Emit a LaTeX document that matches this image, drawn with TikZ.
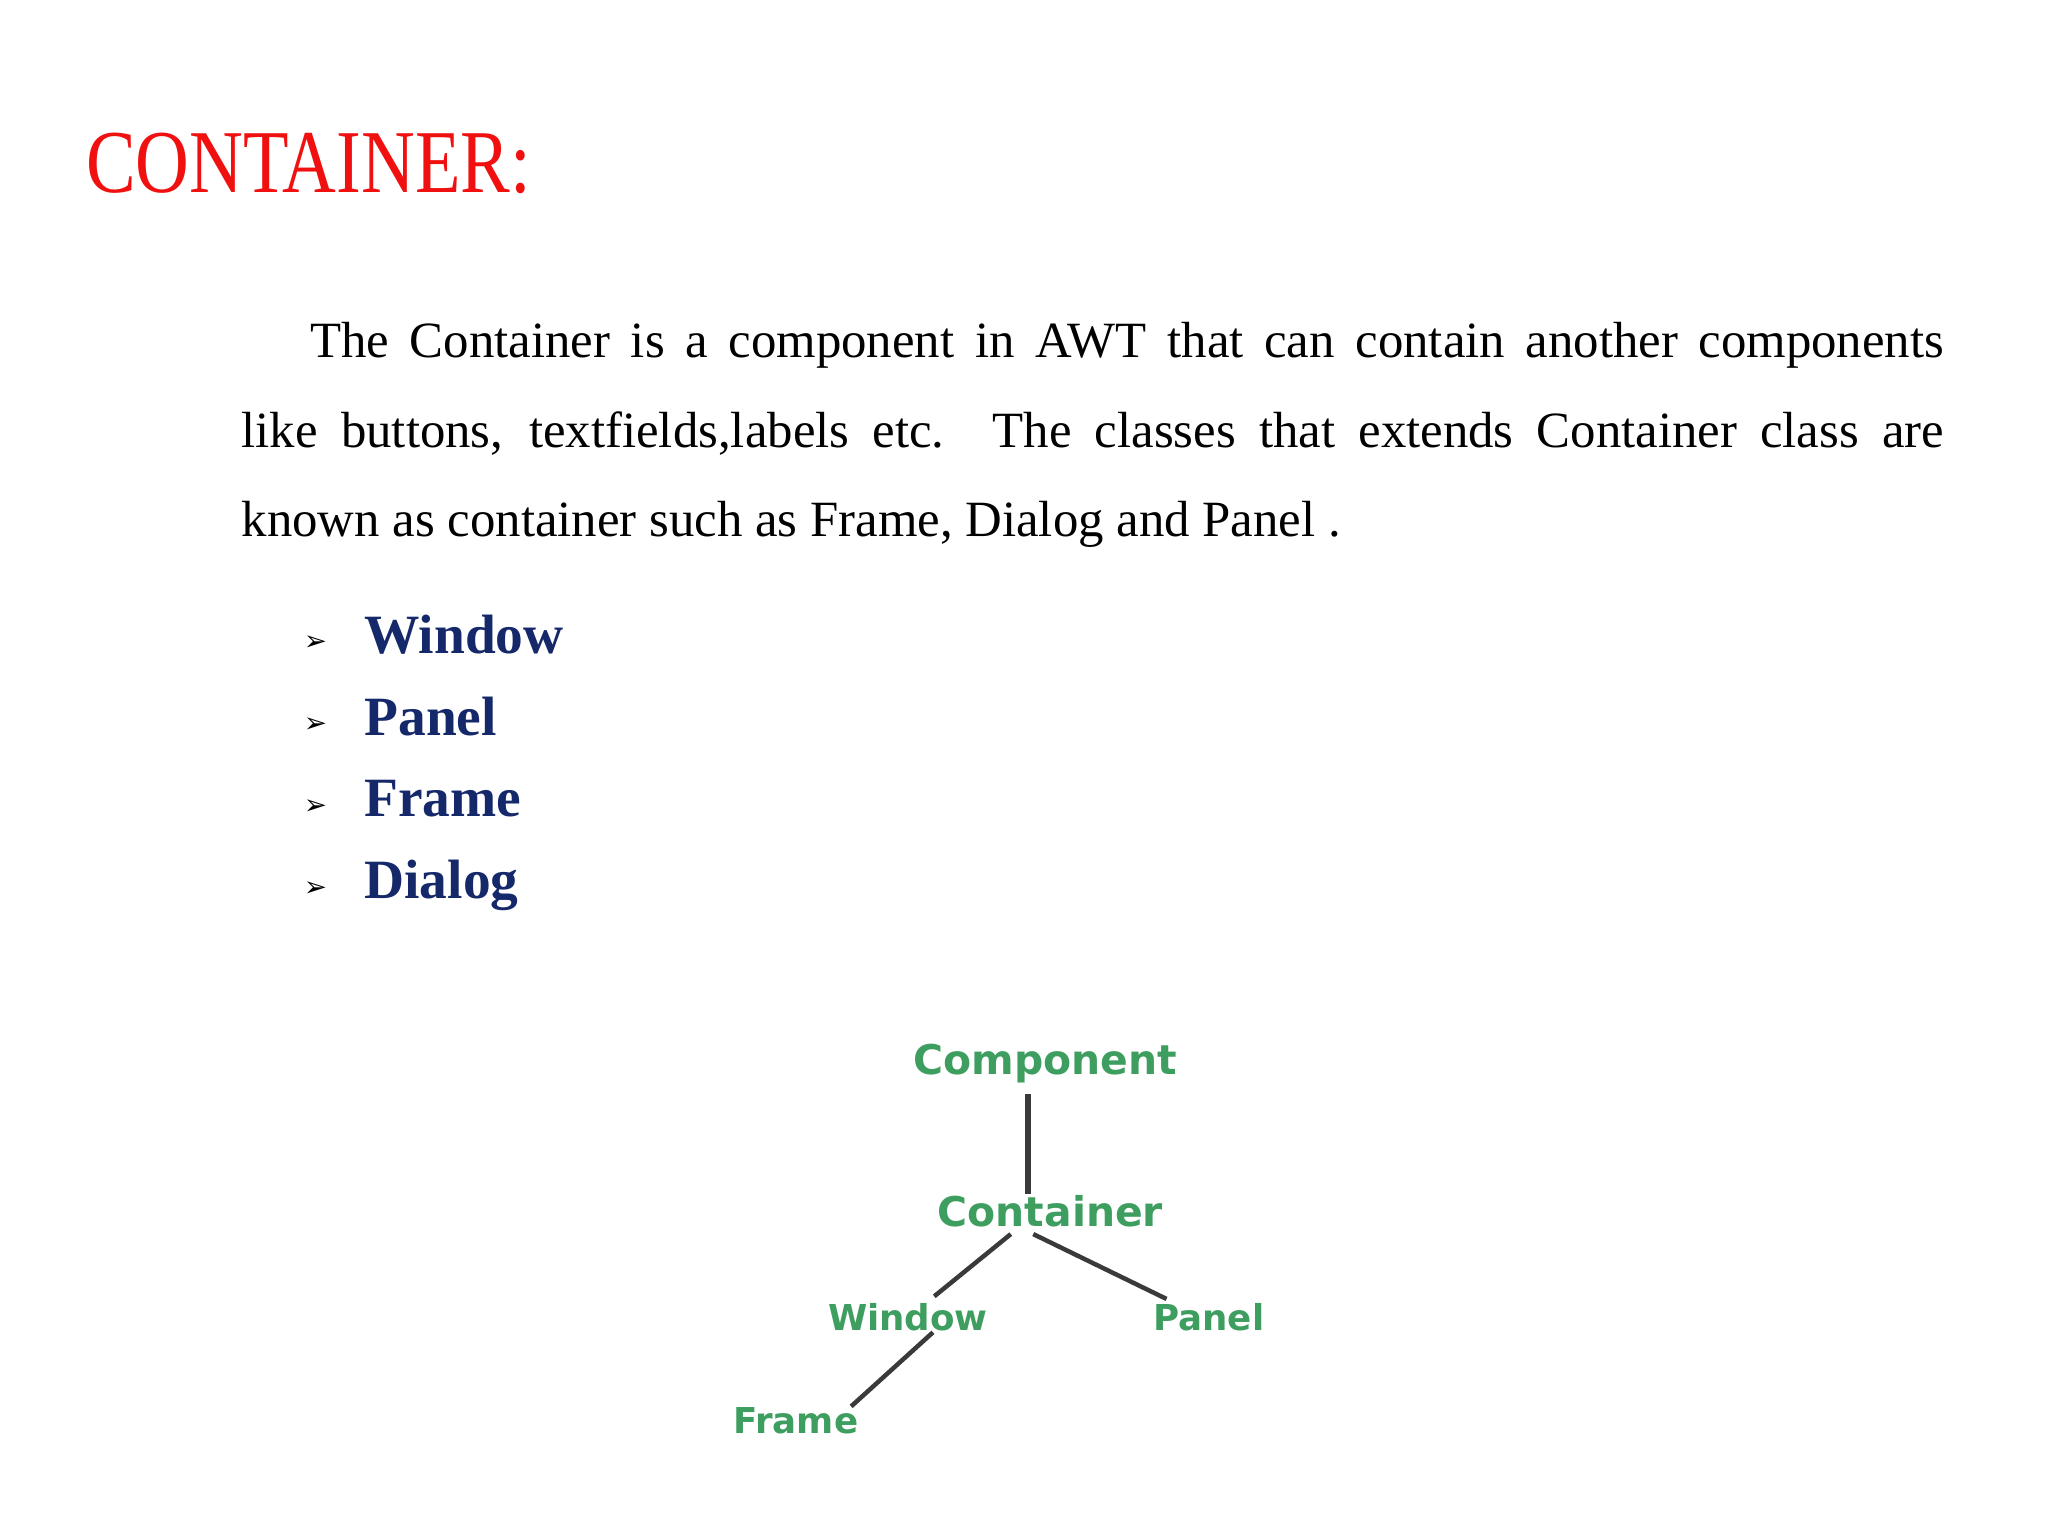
\documentclass[tikz,border=0pt]{standalone}
\usepackage{fontspec}
\setmainfont{Liberation Serif}
\newfontfamily\dejavu{DejaVu Sans}
\definecolor{titlered}{HTML}{F01010}
\definecolor{navy}{HTML}{14286A}
\definecolor{treegreen}{HTML}{3E9E60}
\definecolor{linegray}{HTML}{3A3A3A}
\begin{document}
\begin{tikzpicture}[x=1pt,y=-1pt,
  item/.style={anchor=base west,inner sep=0,font=\fontsize{42}{50}\selectfont\bfseries,text=navy},
  bul/.style={anchor=base west,inner sep=0,font=\dejavu\fontsize{21}{24}\selectfont},
  tnode/.style={inner sep=1pt,text=treegreen,font=\dejavu\bfseries\fontsize{31}{34}\selectfont},
  snode/.style={tnode,font=\dejavu\bfseries\fontsize{27}{30}\selectfont},
  conn/.style={draw=linegray,line width=4pt}]
\useasboundingbox (0,0) rectangle (1552,1164);
\node[anchor=base west,inner sep=0,text=titlered,font=\fontsize{68}{72}\selectfont] (title) at (65,146) {\scalebox{0.83}[1]{CONTAINER:}};
\node[anchor=north west,inner sep=0] (para) at (183,244) {\parbox{1290pt}{\fontsize{38.5}{68}\selectfont\parindent=0pt\hspace*{52pt}The Container is a component in AWT that can contain another components\linebreak like buttons, textfields,labels etc. The classes that extends Container class are\linebreak known as container such as Frame, Dialog and Panel .}};
\foreach \t/\y [count=\i] in {Window/495,Panel/557,Frame/619,Dialog/681}{
  \node[bul] (b\i) at (230,\y-2) {➢};
  \node[item] (i\i) at (276,\y) {\t};
}
\node[tnode] (comp) at (792,806) {Component};
\node[tnode] (cont) at (796,918) {Container};
\node[snode] (win) at (688,998) {Window};
\node[snode] (pan) at (916,998) {Panel};
\node[snode] (fra) at (603,1077) {Frame};
\draw[conn] (779,829) -- (cont.north -| 779,0);
\draw[conn,line width=3.4pt] ([xshift=-30pt,yshift=-4pt]cont.south) -- ([xshift=20pt,yshift=4pt]win.north);
\draw[conn,line width=3.4pt] ([xshift=-13pt,yshift=-4pt]cont.south) -- ([xshift=-32pt,yshift=2pt]pan.north);
\draw[conn,line width=3.4pt] ([xshift=19pt,yshift=0pt]win.south) -- ([xshift=42pt,yshift=0pt]fra.north);
\end{tikzpicture}
\end{document}
